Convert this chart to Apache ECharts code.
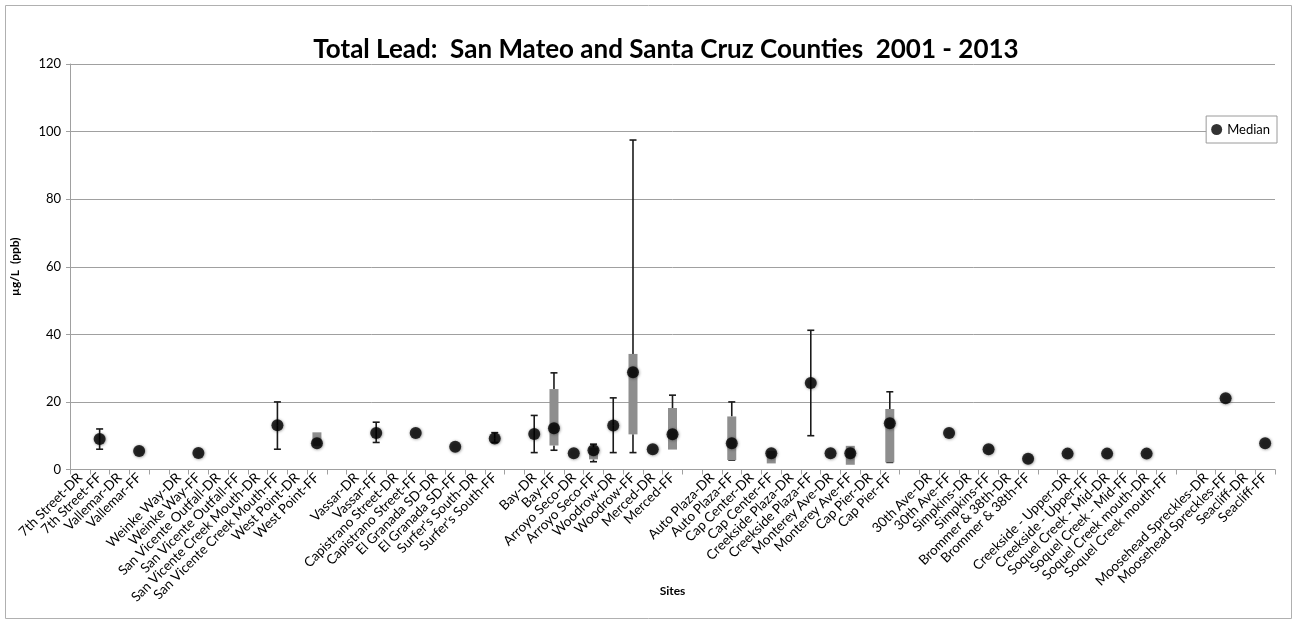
<!DOCTYPE html>
<html>
<head>
<meta charset="utf-8">
<script src="https://cdn.jsdelivr.net/npm/echarts@6/dist/echarts.min.js"></script>
<style>
  html, body { margin: 0; padding: 0; background: #fff; }
  #chart { width: 1297px; height: 624px; }
</style>
</head>
<body>
<div id="chart"></div>
<script>
// ---- Data ----
const sites = [
  '7th Street-DR', '7th Street-FF', 'Vallemar-DR', 'Vallemar-FF', '',
  'Weinke Way-DR', 'Weinke Way-FF', 'San Vicente Outfall-DR', 'San Vicente Outfall-FF',
  'San Vicente Creek Mouth-DR', 'San Vicente Creek Mouth-FF', 'West Point-DR', 'West Point-FF', '',
  'Vassar-DR', 'Vassar-FF', 'Capistrano Street-DR', 'Capistrano Street-FF',
  'El Granada SD-DR', 'El Granada SD-FF', "Surfer's South-DR", "Surfer's South-FF", '',
  'Bay-DR', 'Bay-FF', 'Arroyo Seco-DR', 'Arroyo Seco-FF', 'Woodrow-DR', 'Woodrow-FF',
  'Merced-DR', 'Merced-FF', '',
  'Auto Plaza-DR', 'Auto Plaza-FF', 'Cap Center-DR', 'Cap Center-FF',
  'Creekside Plaza-DR', 'Creekside Plaza-FF', 'Monterey Ave-DR', 'Monterey Ave-FF',
  'Cap Pier-DR', 'Cap Pier-FF', '',
  '30th Ave-DR', '30th Ave-FF', 'Simpkins-DR', 'Simpkins-FF', 'Brommer & 38th-DR', 'Brommer & 38th-FF', '',
  'Creekside - Upper-DR', 'Creekside - Upper-FF', 'Soquel Creek - Mid-DR', 'Soquel Creek - Mid-FF',
  'Soquel Creek mouth-DR', 'Soquel Creek mouth-FF', '',
  'Moosehead Spreckles-DR', 'Moosehead Spreckles-FF', 'Seacliff-DR', 'Seacliff-FF'
];

// medians (µg/L)
const median = [
  null, 9.0, null, 5.5, null,
  null, 4.9, null, null,
  null, 13.1, null, 7.8, null,
  null, 10.8, null, 10.8,
  null, 6.7, null, 9.2, null,
  10.5, 12.2, 4.8, 5.7, 13.0, 28.8,
  6.0, 10.4, null,
  null, 7.8, null, 4.8,
  null, 25.6, 4.8, 4.8,
  null, 13.7, null,
  null, 10.8, null, 6.0, null, 3.2, null,
  4.7, null, 4.7, null,
  4.7, null, null,
  null, 21.1, null, 7.8
];

// box (25th - 75th percentile)
const boxLow = [
  null, null, null, null, null,
  null, null, null, null,
  null, null, null, 7.0, null,
  null, null, null, null,
  null, null, null, null, null,
  null, 7.1, null, 3.0, null, 10.4,
  null, 5.9, null,
  null, 2.8, null, 1.8,
  null, null, null, 1.4,
  null, 2.1, null,
  null, null, null, null, null, null, null,
  null, null, null, null,
  null, null, null,
  null, null, null, null
];
const boxHigh = [
  null, null, null, null, null,
  null, null, null, null,
  null, null, null, 11.0, null,
  null, null, null, null,
  null, null, null, null, null,
  null, 23.8, null, 6.5, null, 34.2,
  null, 18.2, null,
  null, 15.7, null, 5.5,
  null, null, null, 7.0,
  null, 17.9, null,
  null, null, null, null, null, null, null,
  null, null, null, null,
  null, null, null,
  null, null, null, null
];

// whiskers (min / max)
const whiskerLow = [
  null, 6.0, null, null, null,
  null, null, null, null,
  null, 6.0, null, null, null,
  null, 8.0, null, null,
  null, null, null, 8.0, null,
  5.0, 5.7, null, 2.3, 5.0, 5.0,
  null, null, null,
  null, 2.8, null, null,
  null, 10.0, null, null,
  null, 2.1, null,
  null, null, null, null, null, null, null,
  null, null, null, null,
  null, null, null,
  null, null, null, null
];
const whiskerHigh = [
  null, 12.0, null, null, null,
  null, null, null, null,
  null, 20.0, null, null, null,
  null, 14.0, null, null,
  null, null, null, 10.9, null,
  16.0, 28.6, null, 7.5, 21.2, 97.5,
  null, 22.0, null,
  null, 20.0, null, null,
  null, 41.2, null, null,
  null, 23.0, null,
  null, null, null, null, null, null, null,
  null, null, null, null,
  null, null, null,
  null, null, null, null
];

const yTicks = { min: 0, max: 120, interval: 20 };

// ---- Build series data ----
const rangeData = sites.map((s, i) => [i, boxLow[i], boxHigh[i], whiskerLow[i], whiskerHigh[i], median[i]]);

const FONT = 'Lato, "Liberation Sans", sans-serif';
const chart = echarts.init(document.getElementById('chart'), null, { renderer: 'canvas' });

function renderRange(params, api) {
  const i = api.value(0);
  const bl = api.value(1), bh = api.value(2), wl = api.value(3), wh = api.value(4), md = api.value(5);
  const children = [];
  const x = api.coord([i, 0])[0];
  const capW = 7;
  const boxW = 9;
  const lineStyle = { stroke: '#1a1a1a', lineWidth: 1.6 };
  const hasBox = !isNaN(bl) && !isNaN(bh);
  if (!isNaN(wh)) {
    const yTop = api.coord([i, wh])[1];
    const yFrom = api.coord([i, hasBox ? bh : md])[1];
    children.push({ type: 'line', shape: { x1: x, y1: yTop, x2: x, y2: yFrom }, style: lineStyle });
    children.push({ type: 'line', shape: { x1: x - capW / 2, y1: yTop, x2: x + capW / 2, y2: yTop }, style: lineStyle });
  }
  if (!isNaN(wl)) {
    const yBot = api.coord([i, wl])[1];
    const yFrom = api.coord([i, hasBox ? bl : md])[1];
    children.push({ type: 'line', shape: { x1: x, y1: yFrom, x2: x, y2: yBot }, style: lineStyle });
    children.push({ type: 'line', shape: { x1: x - capW / 2, y1: yBot, x2: x + capW / 2, y2: yBot }, style: lineStyle });
  }
  if (hasBox) {
    const y1 = api.coord([i, bh])[1];
    const y2 = api.coord([i, bl])[1];
    children.push({ type: 'rect', shape: { x: x - boxW / 2, y: y1, width: boxW, height: y2 - y1 }, style: { fill: '#8e8e8e' } });
  }
  return { type: 'group', children: children };
}

chart.setOption({
  animation: false,
  backgroundColor: '#ffffff',
  title: {
    text: 'Total Lead:  San Mateo and Santa Cruz Counties  2001 - 2013',
    left: 661,
    textAlign: 'center',
    top: 32,
    textStyle: { fontFamily: FONT, fontWeight: 'bold', fontSize: 26, color: '#000' }
  },
  legend: {
    data: [{ name: 'Median', icon: 'circle' }],
    right: 20,
    top: 116,
    itemWidth: 11,
    itemHeight: 11,
    itemGap: 4,
    padding: [7, 7, 7, 5],
    borderColor: '#9a9a9a',
    borderWidth: 1,
    backgroundColor: '#ffffff',
    textStyle: { fontFamily: FONT, fontSize: 13, color: '#000' }
  },
  graphic: [{
    type: 'rect',
    shape: { x: 5.5, y: 5.5, width: 1286, height: 613 },
    style: { fill: 'none', stroke: '#b0b0b0', lineWidth: 1 },
    silent: true
  }],
  grid: { left: 70, top: 64, right: 22, bottom: 154.5, containLabel: false, outerBoundsMode: 'none' },
  xAxis: {
    type: 'category',
    data: sites,
    boundaryGap: true,
    name: 'Sites',
    nameLocation: 'middle',
    nameGap: 116,
    nameMoveOverlap: false,
    nameTextStyle: { fontFamily: FONT, fontWeight: 'bold', fontSize: 12, color: '#000' },
    axisLine: { lineStyle: { color: '#a0a0a0', width: 1 } },
    axisTick: { show: true, interval: 0, length: 5, lineStyle: { color: '#a0a0a0' } },
    axisLabel: { interval: 0, rotate: 45, fontFamily: FONT, fontSize: 13.5, color: '#000', margin: 6 },
    splitLine: { show: false }
  },
  yAxis: {
    type: 'value',
    min: yTicks.min,
    max: yTicks.max,
    interval: yTicks.interval,
    name: 'µg/L  (ppb)',
    nameLocation: 'middle',
    nameGap: 49,
    nameMoveOverlap: false,
    nameTextStyle: { fontFamily: FONT, fontWeight: 'bold', fontSize: 12, color: '#000' },
    axisLine: { show: true, lineStyle: { color: '#a0a0a0', width: 1 } },
    axisTick: { show: true, length: 4, lineStyle: { color: '#a0a0a0' } },
    axisLabel: { fontFamily: FONT, fontSize: 13, color: '#000', margin: 9 },
    splitLine: { show: true, lineStyle: { color: '#a0a0a0', width: 1 } }
  },
  series: [
    {
      name: 'Range',
      type: 'custom',
      renderItem: renderRange,
      data: rangeData,
      encode: { x: 0, y: [1, 2, 3, 4, 5] },
      z: 2,
      silent: true
    },
    {
      name: 'Median',
      type: 'scatter',
      data: median.map((v, i) => [i, v]),
      symbol: 'circle',
      symbolSize: 12,
      itemStyle: { color: '#000', shadowBlur: 3, shadowColor: 'rgba(0,0,0,0.55)', shadowOffsetX: 0.5, shadowOffsetY: 0.5 },
      z: 3
    }
  ]
});
</script>
</body>
</html>
